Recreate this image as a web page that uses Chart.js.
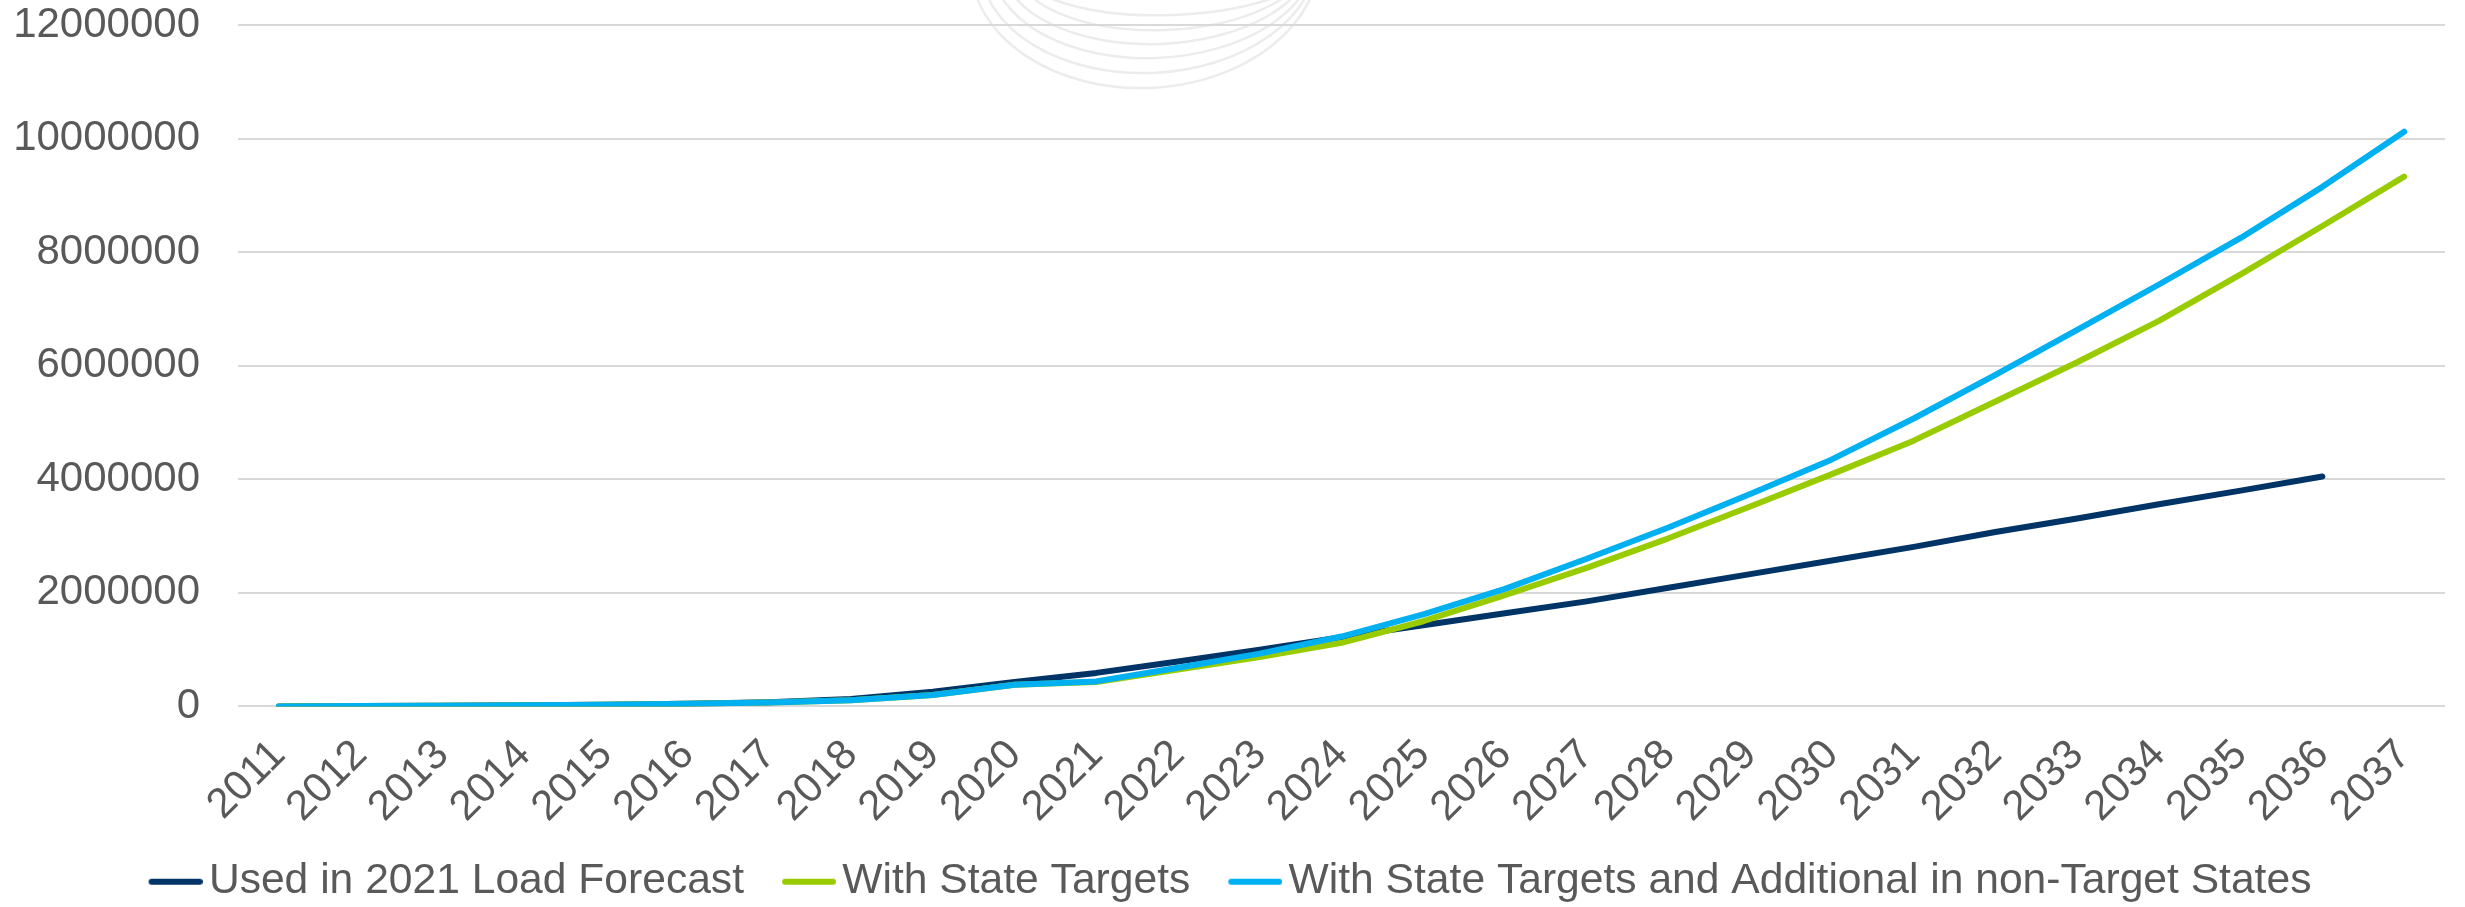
<!DOCTYPE html>
<html>
<head>
<meta charset="utf-8">
<script src="https://cdn.jsdelivr.net/npm/chart.js@4.4.1/dist/chart.umd.min.js"></script>
<style>
  html, body { margin: 0; padding: 0; background: #fff; }
  #wrap { width: 2465px; height: 907px; position: relative; }
</style>
</head>
<body>
<div id="wrap"><canvas id="evChart"></canvas></div>
<script>
const years = ["2011","2012","2013","2014","2015","2016","2017","2018","2019","2020",
  "2021","2022","2023","2024","2025","2026","2027","2028","2029","2030",
  "2031","2032","2033","2034","2035","2036","2037"];

const loadForecast = [0, 5000, 12000, 20000, 30000, 45000, 75000, 130000, 260000, 430000,
  590000, 790000, 1000000, 1220000, 1430000, 1640000, 1850000, 2090000, 2330000, 2570000,
  2810000, 3070000, 3310000, 3560000, 3800000, 4050000, null];

const stateTargets = [0, 5000, 12000, 20000, 30000, 45000, 70000, 110000, 200000, 380000,
  430000, 650000, 870000, 1120000, 1500000, 1960000, 2440000, 2960000, 3520000, 4090000,
  4680000, 5370000, 6060000, 6790000, 7610000, 8460000, 9330000];

const stateTargetsPlus = [0, 5000, 12000, 20000, 30000, 45000, 70000, 110000, 200000, 380000,
  440000, 680000, 930000, 1230000, 1620000, 2070000, 2600000, 3150000, 3740000, 4350000,
  5070000, 5840000, 6630000, 7430000, 8250000, 9150000, 10120000];

const yTicks = [0, 2000000, 4000000, 6000000, 8000000, 10000000, 12000000];

const textGray = "#595959";
const fontFamily = "'Liberation Sans', Arial, sans-serif";

// legend swatch: short thick line, sitting close to its text
function swatch(color) {
  const cv = document.createElement("canvas");
  cv.width = 84;
  cv.height = 10;
  const c = cv.getContext("2d");
  c.strokeStyle = color;
  c.lineWidth = 6;
  c.lineCap = "round";
  c.beginPath();
  c.moveTo(33, 5);
  c.lineTo(81, 5);
  c.stroke();
  return cv;
}

// faint logo arcs in the slide background, top centre
const bgArcs = {
  id: "bgArcs",
  beforeDraw(chart) {
    const c = chart.ctx;
    const bottoms = [15, 30, 44, 58, 73, 88];
    const lefts = [1060, 1035, 1015, 1000, 985, 973];
    const rights = [1272, 1280, 1288, 1295, 1300, 1305];
    const lift = 40;
    c.save();
    c.strokeStyle = "#ececec";
    c.lineWidth = 2.5;
    bottoms.forEach((b, i) => {
      const ry = b + lift;
      const half = (rights[i] - lefts[i]) / 2;
      const rx = half / Math.sqrt(1 - (lift / ry) * (lift / ry));
      c.beginPath();
      c.ellipse((lefts[i] + rights[i]) / 2 + 6, -lift, rx, ry, -0.04, 0, Math.PI);
      c.stroke();
    });
    c.restore();
  }
};

const ctx = document.getElementById("evChart").getContext("2d");
new Chart(ctx, {
  type: "line",
  data: {
    labels: years,
    datasets: [
      {
        label: "Used in 2021 Load Forecast",
        data: loadForecast,
        borderColor: "#003366",
        backgroundColor: "#003366",
        borderWidth: 6,
        order: 3
      },
      {
        label: "With State Targets",
        data: stateTargets,
        borderColor: "#99CC00",
        backgroundColor: "#99CC00",
        borderWidth: 6,
        order: 2
      },
      {
        label: "With State Targets and Additional in non-Target States",
        data: stateTargetsPlus,
        borderColor: "#00B0F0",
        backgroundColor: "#00B0F0",
        borderWidth: 6,
        order: 1
      }
    ]
  },
  options: {
    responsive: true,
    maintainAspectRatio: false,
    animation: false,
    layout: { padding: { top: 1, right: 20, bottom: -6, left: 0 } },
    elements: {
      point: { radius: 0, hoverRadius: 0 },
      line: { tension: 0, borderCapStyle: "round", borderJoinStyle: "round", fill: false }
    },
    plugins: {
      tooltip: { enabled: false },
      legend: {
        position: "bottom",
        labels: {
          usePointStyle: true,
          pointStyleWidth: 54,
          padding: 23,
          color: textGray,
          font: { family: fontFamily, size: 42.6 },
          sort: (a, b) => a.datasetIndex - b.datasetIndex,
          generateLabels(chart) {
            const items = Chart.defaults.plugins.legend.labels.generateLabels(chart);
            items.forEach(it => {
              it.pointStyle = swatch(chart.data.datasets[it.datasetIndex].borderColor);
            });
            return items;
          }
        }
      }
    },
    scales: {
      x: {
        offset: true,
        grid: { display: false },
        border: { display: false },
        ticks: {
          color: textGray,
          font: { family: fontFamily, size: 42 },
          minRotation: 45,
          maxRotation: 45,
          autoSkip: false,
          padding: 16
        },
        afterFit(scale) { scale.height = 131; }
      },
      y: {
        min: 0,
        max: 12000000,
        afterBuildTicks(scale) { scale.ticks = yTicks.map(v => ({ value: v })); },
        grid: { color: "#d9d9d9", lineWidth: 2, drawTicks: false },
        border: { display: false },
        ticks: {
          color: textGray,
          font: { family: fontFamily, size: 42 },
          padding: 38,
          callback: v => String(v)
        },
        afterFit(scale) {
          scale.width = 238;
          scale.paddingTop = 25;
          scale.paddingBottom = 0;
        }
      }
    }
  },
  plugins: [bgArcs]
});
</script>
</body>
</html>
